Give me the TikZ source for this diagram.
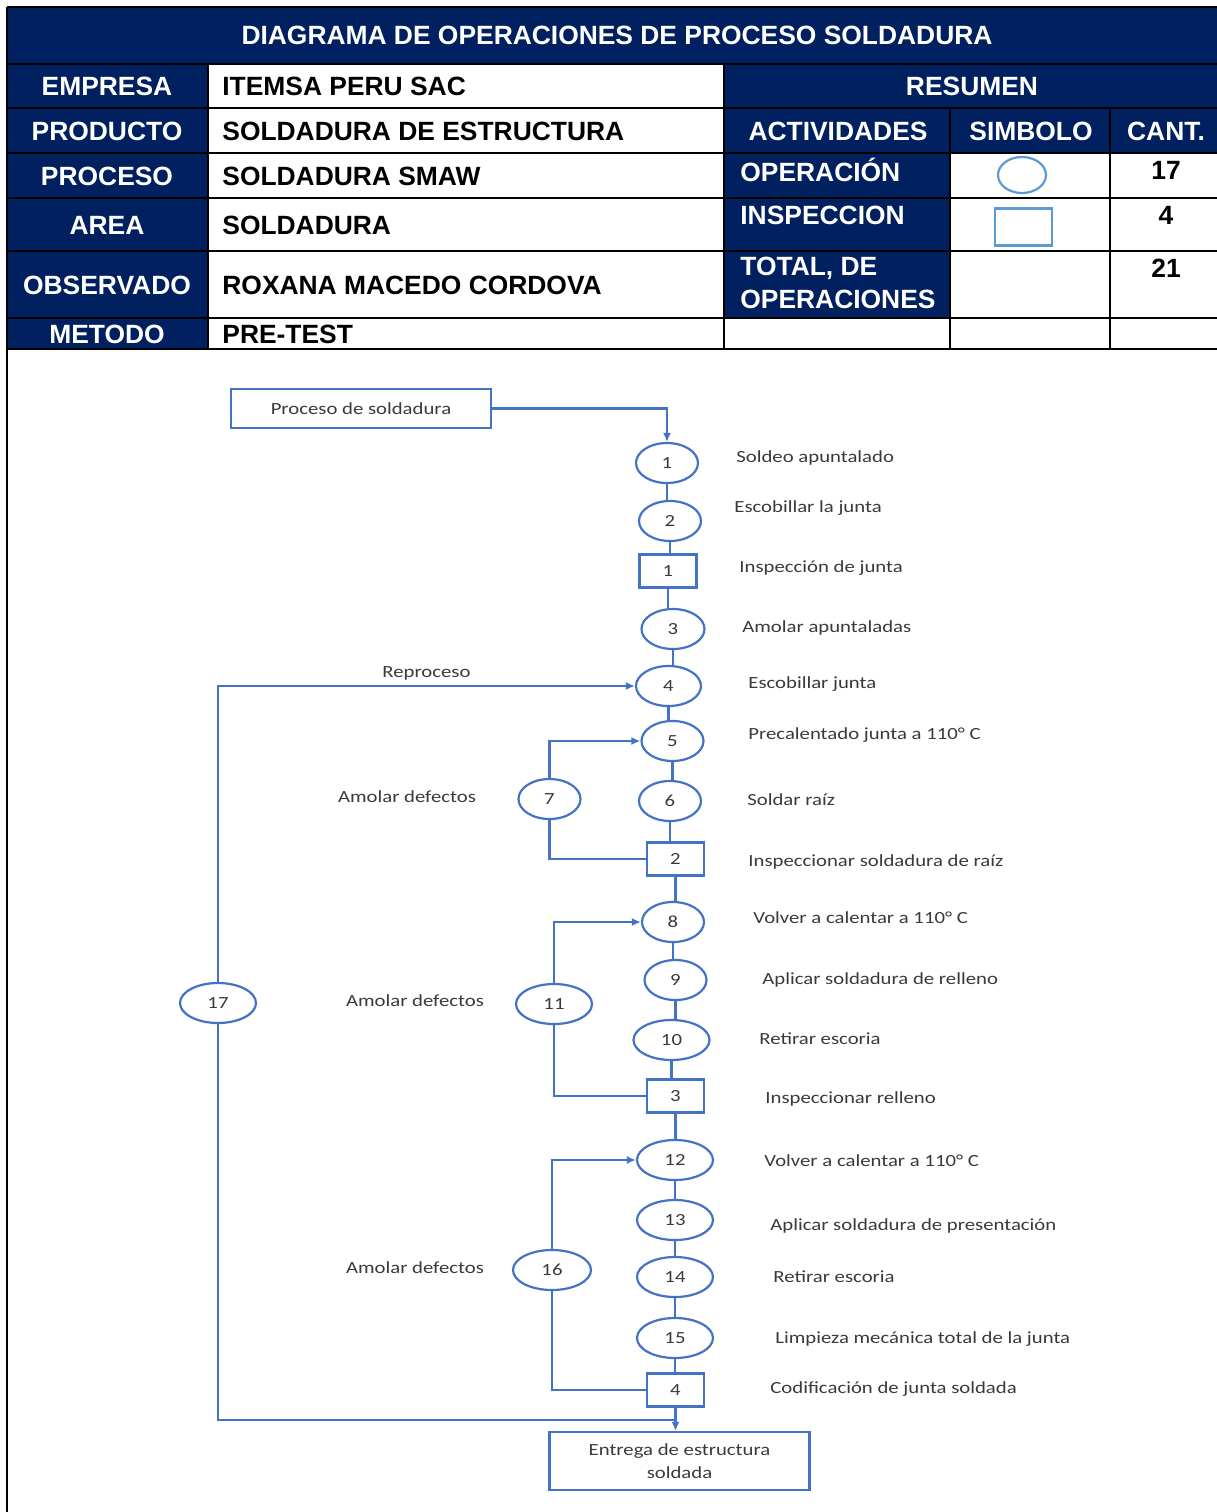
\documentclass[tikz,border=0pt]{standalone}
\usepackage{fontspec}
\setmainfont{Liberation Sans}
\newfontfamily\lbl[FakeStretch=1.22]{Carlito}
\usetikzlibrary{shapes.geometric,arrows.meta,calc}
\definecolor{navy}{HTML}{002060}
\definecolor{flowblue}{HTML}{4472C4}
\definecolor{symblue}{HTML}{5B9BD5}
\definecolor{lblgray}{HTML}{3A3A3A}
\tikzset{
  hdr/.style={font=\fontsize{13.2}{15}\selectfont\bfseries, text=white, inner sep=0pt},
  val/.style={font=\fontsize{13.2}{15}\selectfont\bfseries, text=black, inner sep=0pt, anchor=west},
  grid/.style={draw=black, line width=1pt},
  flow/.style={draw=flowblue, line width=1.1pt},
  arr/.style={-{Latex[length=4.5pt,width=4pt]}},
  lblfont/.style={font=\lbl\fontsize{8.5}{11.5}\selectfont, text=lblgray},
  opn/.style={ellipse, draw=flowblue, line width=1.1pt, minimum width=31pt, minimum height=20pt, inner sep=0pt, lblfont},
  opw/.style={opn, minimum width=38pt},
  insp/.style={rectangle, draw=flowblue, line width=1.1pt, minimum width=28.5pt, minimum height=16.5pt, inner sep=0pt, lblfont},
  boxnode/.style={rectangle, draw=flowblue, line width=1.1pt, minimum width=130pt, minimum height=19.5pt, inner sep=0pt, lblfont},
  desc/.style={anchor=west, inner sep=0pt, lblfont},
  side/.style={inner sep=0pt, lblfont},
}
\begin{document}
\begin{tikzpicture}[x=0.5pt,y=-0.5pt]
\useasboundingbox (0,0) rectangle (1217,1512);
\fill[white] (0,0) rectangle (1217,1512);
% ---------- table fills
\fill[navy] (7,7) rectangle (1217,64);
\fill[navy] (7,64) rectangle (208,349);
\fill[navy] (724,64) rectangle (1217,153);
\fill[navy] (724,153) rectangle (950,318);
% ---------- table lines
\draw[grid] (7,7) -- (1217,7);
\draw[grid] (7,7) -- (7,1512);
\foreach \yy in {64,108,153,198,251,318,349} \draw[grid] (7,\yy) -- (1217,\yy);
\draw[grid] (208,64) -- (208,349);
\draw[grid] (724,64) -- (724,349);
\draw[grid] (950,108) -- (950,349);
\draw[grid] (1110,108) -- (1110,349);
% ---------- table text
\node[hdr] (title) at (617,35) {DIAGRAMA DE OPERACIONES DE PROCESO SOLDADURA};
\node[hdr] (l1) at (107,86) {EMPRESA};
\node[hdr] (l2) at (107,131) {PRODUCTO};
\node[hdr] (l3) at (107,176) {PROCESO};
\node[hdr] (l4) at (107,225) {AREA};
\node[hdr] (l5) at (107,285) {OBSERVADO};
\node[hdr] (l6) at (107,334) {METODO};
\node[val] (v1) at (222,86) {ITEMSA PERU SAC};
\node[val] (v2) at (222,131) {SOLDADURA DE ESTRUCTURA};
\node[val] (v3) at (222,176) {SOLDADURA SMAW};
\node[val] (v4) at (222,225) {SOLDADURA};
\node[val] (v5) at (222,285) {ROXANA MACEDO CORDOVA};
\node[val] (v6) at (222,334) {PRE-TEST};
\node[hdr] (res) at (972,86) {RESUMEN};
\node[hdr] (hact) at (838,131) {ACTIVIDADES};
\node[hdr] (hsim) at (1031,131) {SIMBOLO};
\node[hdr] (hcant) at (1166,131) {CANT.};
\node[hdr, anchor=west] (a1) at (740,170) {OPERACIÓN};
\node[hdr, anchor=west] (a2) at (740,215) {INSPECCION};
\node[hdr, anchor=west] (a3) at (740,268) {TOTAL, DE};
\node[hdr, anchor=west] (a4) at (740,299) {OPERACIONES};
\node[val, anchor=center] (c1) at (1166,170) {17};
\node[val, anchor=center] (c2) at (1166,215) {4};
\node[val, anchor=center] (c3) at (1166,268) {21};
\node[ellipse, draw=symblue, line width=1.1pt, minimum width=24pt, minimum height=18pt, inner sep=0pt] (sym1) at (1022,175) {};
\node[rectangle, draw=symblue, line width=1.1pt, minimum width=28.5pt, minimum height=18.5pt, inner sep=0pt] (sym2) at (1023.5,227) {};
% ---------- flow nodes
\node[boxnode] (start) at (361,408.5) {Proceso de soldadura};
\node[opn] (o1) at (667,463) {1};
\node[opn] (o2) at (670,521) {2};
\node[insp] (i1) at (668,571) {1};
\node[opn, minimum width=31.5pt] (o3) at (673,629) {3};
\node[opn, minimum width=32.5pt] (o4) at (668.5,686) {4};
\node[opn] (o5) at (672.5,741) {5};
\node[opn] (o6) at (670,801) {6};
\node[insp] (i2) at (675.5,859) {2};
\node[opn] (o8) at (673,922) {8};
\node[opn] (o9) at (675.5,980) {9};
\node[opw] (o10) at (671.5,1040) {10};
\node[insp] (i3) at (675.5,1096) {3};
\node[opw] (o12) at (675,1160) {12};
\node[opw] (o13) at (675,1220) {13};
\node[opw] (o14) at (675,1277) {14};
\node[opw] (o15) at (675,1338) {15};
\node[insp] (i4) at (675.5,1390) {4};
\node[opn] (o7) at (549.5,799) {7};
\node[opw] (o11) at (554,1004) {11};
\node[opw, minimum width=39pt] (o16) at (552,1270) {16};
\node[opw] (o17) at (218,1003) {17};
\node[boxnode, minimum height=29pt, align=center] (endbox) at (679.5,1461) {Entrega de estructura\\soldada};
% ---------- descriptions
\node[desc] (d1) at (736,458) {Soldeo apuntalado};
\node[desc] (d2) at (734,508) {Escobillar la junta};
\node[desc] (d3) at (739,568) {Inspección de junta};
\node[desc] (d4) at (742,628) {Amolar apuntaladas};
\node[desc] (d5) at (748,684) {Escobillar junta};
\node[desc] (d6) at (748,735) {Precalentado junta a 110° C};
\node[desc] (d7) at (747,800) {Soldar raíz};
\node[desc] (d8) at (748,862) {Inspeccionar soldadura de raíz};
\node[desc] (d9) at (753,918) {Volver a calentar a 110° C};
\node[desc] (d10) at (762,980) {Aplicar soldadura de relleno};
\node[desc] (d11) at (759,1039) {Retirar escoria};
\node[desc] (d12) at (765,1099) {Inspeccionar relleno};
\node[desc] (d13) at (764,1161) {Volver a calentar a 110° C};
\node[desc] (d14) at (770,1226) {Aplicar soldadura de presentación};
\node[desc] (d15) at (773,1277) {Retirar escoria};
\node[desc] (d16) at (775,1339) {Limpieza mecánica total de la junta};
\node[desc] (d17) at (770,1389) {Codificación de junta soldada};
\node[side] (s1) at (407,797) {Amolar defectos};
\node[side] (s2) at (415,1001) {Amolar defectos};
\node[side] (s3) at (415,1268) {Amolar defectos};
% ---------- connectors
\draw[flow,arr] (start.east) -| (o1.north);
\foreach \a/\b in {o1/o2,o2/i1,i1/o3,o3/o4,o4/o5,o5/o6,o6/i2,i2/o8,o8/o9,o9/o10,o10/i3,i3/o12,o12/o13,o13/o14,o14/o15,o15/i4}
  \draw[flow] (\a.south) -- (\a.south |- \b.north);
\draw[flow,arr] (o7.north) |- (o5.west);
\draw[flow] (o7.south) |- (i2.west);
\draw[flow,arr] (o11.north) |- (o8.west);
\draw[flow] (o11.south) |- (i3.west);
\draw[flow,arr] (o16.north) |- (o12.west);
\draw[flow] (o16.south) |- (i4.west);
\draw[flow,arr] (o17.north) |- (o4.west) node[pos=0.75, above=2.5pt, inner sep=0pt, lblfont] (rep) {Reproceso};
\path (i4.south) ++(0,12) coordinate (j);
\draw[flow] (o17.south) |- (j);
\draw[flow,arr] (i4.south) -- (i4.south |- endbox.north);
\end{tikzpicture}
\end{document}
